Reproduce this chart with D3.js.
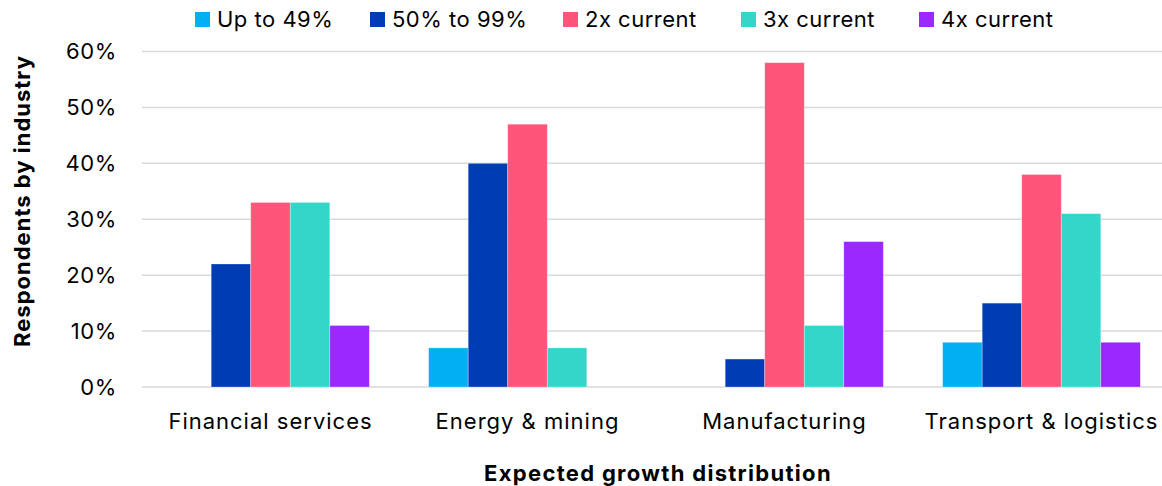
<!DOCTYPE html>
<html>
<head>
<meta charset="utf-8">
<script src="https://cdn.jsdelivr.net/npm/d3@7"></script>
<style>
  body { margin: 0; background: #fff; }
  svg { display: block; font-family: Inter, "Noto Sans", sans-serif; }
</style>
</head>
<body>
<div id="chart"></div>
<script>
  // chart data
  var industries = ["Financial services", "Energy & mining", "Manufacturing", "Transport & logistics"];
  var seriesNames = ["Up to 49%", "50% to 99%", "2x current", "3x current", "4x current"];
  var seriesColors = ["#00B0F0", "#003CB4", "#FF557A", "#33D6C8", "#9A28FF"];
  var upTo49 = [0, 7, 0, 8];
  var from50to99 = [22, 40, 5, 15];
  var twoX = [33, 47, 58, 38];
  var threeX = [33, 7, 11, 31];
  var fourX = [11, 0, 26, 8];
  var yTicks = [0, 10, 20, 30, 40, 50, 60];

  var seriesValues = [upTo49, from50to99, twoX, threeX, fourX];

  var width = 1162, height = 486;
  var margin = { top: 51.5, right: -8, bottom: 99, left: 142 };
  // legend item positions (layout only)
  var legendX = [195, 370, 563, 741, 919];

  var svg = d3.select("#chart").append("svg")
      .attr("width", width)
      .attr("height", height);

  var x0 = d3.scaleBand()
      .domain(industries)
      .range([margin.left, width - margin.right])
      .paddingInner(0)
      .paddingOuter(0);

  // Excel-like gap width of 150% of a bar
  var x1 = d3.scaleBand()
      .domain(seriesNames)
      .range([0, x0.bandwidth()])
      .paddingOuter(0.75)
      .paddingInner(0);

  var y = d3.scaleLinear()
      .domain([0, 60])
      .range([height - margin.bottom, margin.top]);

  // gridlines
  svg.append("g")
      .selectAll("line")
      .data(yTicks)
      .join("line")
      .attr("x1", margin.left)
      .attr("x2", width - margin.right)
      .attr("y1", function (d) { return y(d); })
      .attr("y2", function (d) { return y(d); })
      .attr("stroke", "#D9D9D9")
      .attr("stroke-width", 1.5);

  // y tick labels
  svg.append("g")
      .selectAll("text")
      .data(yTicks)
      .join("text")
      .attr("x", 117)
      .attr("y", function (d) { return y(d); })
      .attr("dy", "0.35em")
      .attr("text-anchor", "end")
      .attr("font-size", 22)
      .attr("letter-spacing", 0.6)
      .attr("fill", "#000")
      .text(function (d) { return d + "%"; });

  // bars
  var groups = svg.append("g")
      .selectAll("g")
      .data(industries)
      .join("g")
      .attr("transform", function (d) { return "translate(" + x0(d) + ",0)"; });

  groups.selectAll("rect")
      .data(function (d, i) {
        return seriesNames.map(function (s, j) {
          return { series: s, value: seriesValues[j][i], color: seriesColors[j] };
        });
      })
      .join("rect")
      .filter(function (d) { return d.value > 0; })
      .attr("x", function (d) { return x1(d.series); })
      .attr("y", function (d) { return y(d.value); })
      .attr("width", x1.bandwidth())
      .attr("height", function (d) { return y(0) - y(d.value); })
      .attr("fill", function (d) { return d.color; })
      .attr("stroke", "rgba(255,255,255,0.4)")
      .attr("stroke-width", 0.75);

  // category labels
  svg.append("g")
      .selectAll("text")
      .data(industries)
      .join("text")
      .attr("x", function (d) { return x0(d) + x0.bandwidth() / 2; })
      .attr("y", 421)
      .attr("dy", "0.35em")
      .attr("text-anchor", "middle")
      .attr("font-size", 22)
      .attr("letter-spacing", 1)
      .attr("fill", "#000")
      .text(function (d) { return d; });

  // axis titles
  svg.append("text")
      .attr("x", 658)
      .attr("y", 473)
      .attr("dy", "0.35em")
      .attr("text-anchor", "middle")
      .attr("font-size", 22)
      .attr("font-weight", "bold")
      .attr("letter-spacing", 1.3)
      .attr("fill", "#000")
      .text("Expected growth distribution");

  svg.append("text")
      .attr("transform", "translate(22,201) rotate(-90)")
      .attr("dy", "0.35em")
      .attr("text-anchor", "middle")
      .attr("font-size", 22)
      .attr("font-weight", "bold")
      .attr("letter-spacing", 1)
      .attr("fill", "#000")
      .text("Respondents by industry");

  // legend
  var legend = svg.append("g")
      .selectAll("g")
      .data(seriesNames)
      .join("g")
      .attr("transform", function (d, i) { return "translate(" + legendX[i] + ",0)"; });

  legend.append("rect")
      .attr("x", 0)
      .attr("y", 12)
      .attr("width", 15)
      .attr("height", 15)
      .attr("fill", function (d, i) { return seriesColors[i]; });

  legend.append("text")
      .attr("x", 22)
      .attr("y", 19.5)
      .attr("dy", "0.35em")
      .attr("font-size", 22)
      .attr("letter-spacing", 0.5)
      .attr("fill", "#000")
      .text(function (d) { return d; });
</script>
</body>
</html>
